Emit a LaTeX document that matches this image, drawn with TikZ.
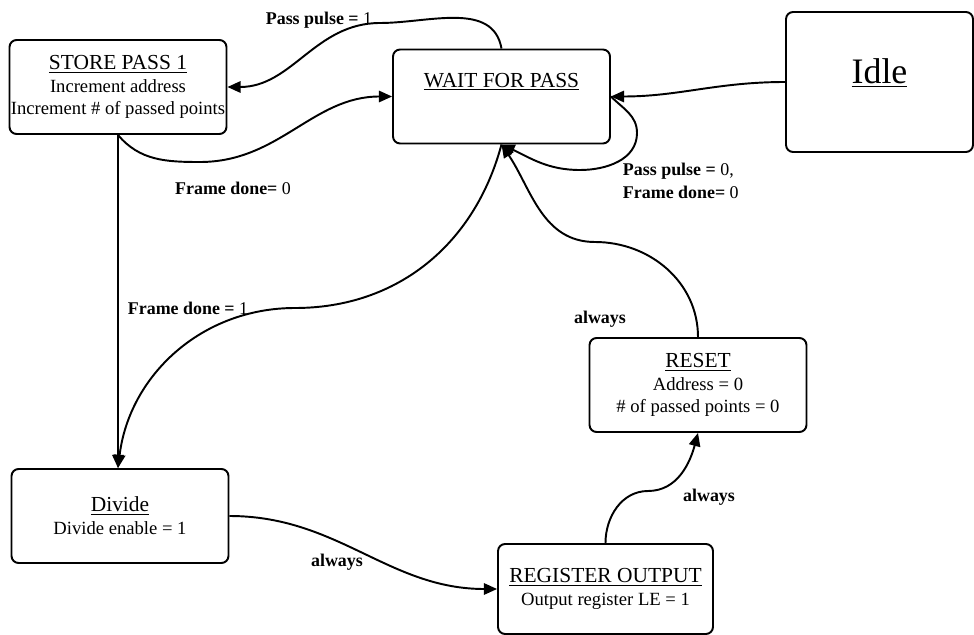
\documentclass[tikz,border=0pt]{standalone}
\usepackage{fontspec}
\setmainfont{Liberation Serif}
\usetikzlibrary{arrows.meta}
\newcommand{\statename}[1]{{\fontsize{12.2}{13}\selectfont\underline{#1}}}

\begin{document}
\begin{tikzpicture}[x=0.02cm,y=-0.02cm,line width=1.1pt,
  >={Triangle[length=7.5pt,width=6.5pt]},
  state/.style={draw,rounded corners=4pt,align=center,inner sep=0pt,
    minimum width=4.34cm,minimum height=1.88cm,font=\fontsize{10.6}{13}\selectfont},
  cond/.style={inner sep=0pt,font=\fontsize{10.2}{13}\selectfont\bfseries}]
\useasboundingbox (0,0) rectangle (974,635);

\node[state] (store) at (118,87) {\statename{STORE PASS 1}\\Increment address\\Increment \# of passed points};
\node[state,text height=0.3cm,text depth=0.68cm] (wait) at (501.5,96.5) {\statename{WAIT FOR PASS}};
\node[state,minimum width=3.74cm,minimum height=2.8cm,text height=0.5cm,text depth=0.42cm,font=\fontsize{20.4}{24}\selectfont] (idle) at (879.5,82) {\underline{Idle}};
\node[state] (reset) at (698,385) {\statename{RESET}\\Address = 0\\\# of passed points = 0};
\node[state] (divide) at (120,516) {\statename{Divide}\\Divide enable = 1};
\node[state,minimum width=4.3cm,minimum height=1.8cm] (reg) at (605.5,589) {\statename{REGISTER OUTPUT}\\Output register LE = 1};

\draw[->] (wait.north) to[out=100,in=0] (380,23) to[out=180,in=0] (store.east);
\draw[->] (store.south) to[out=-50,in=180] (200,162) to[out=0,in=180] (wait.west);
\draw[->] (store.south) -- (store.south |- divide.north);
\draw[->] (wait.south) to[out=-105,in=0] (295,308) to[out=180,in=83] (store.south |- divide.north);
\draw[->] (idle.west) to[out=180,in=0] (wait.east);
\draw[->] (wait.east) to[out=-45,in=90] (637,133) to[out=-90,in=0] (580,170) to[out=180,in=-25] (wait.south);
\draw[->] (reset.north) to[out=90,in=0] (595,242) to[out=180,in=-56] (wait.south);
\draw[->] (divide.east) to[out=0,in=180] (reg.west);
\draw[->] (reg.north) to[out=90,in=180] (648,491) to[out=0,in=-105] (reset.south);

\node[cond] (pp1) at (319,20) {Pass pulse = {\mdseries 1}};
\node[cond] (fd0) at (233,188) {Frame done= {\mdseries 0}};
\node[cond,align=left,anchor=west] (stay) at (622,181) {Pass pulse = {\mdseries 0,}\\Frame done= {\mdseries 0}};
\node[cond] (fd1) at (188,308) {Frame done = {\mdseries 1}};
\node[cond] (alw1) at (600,319) {always};
\node[cond] (alw2) at (709,497) {always};
\node[cond] (alw3) at (337,562) {always};
\end{tikzpicture}
\end{document}
